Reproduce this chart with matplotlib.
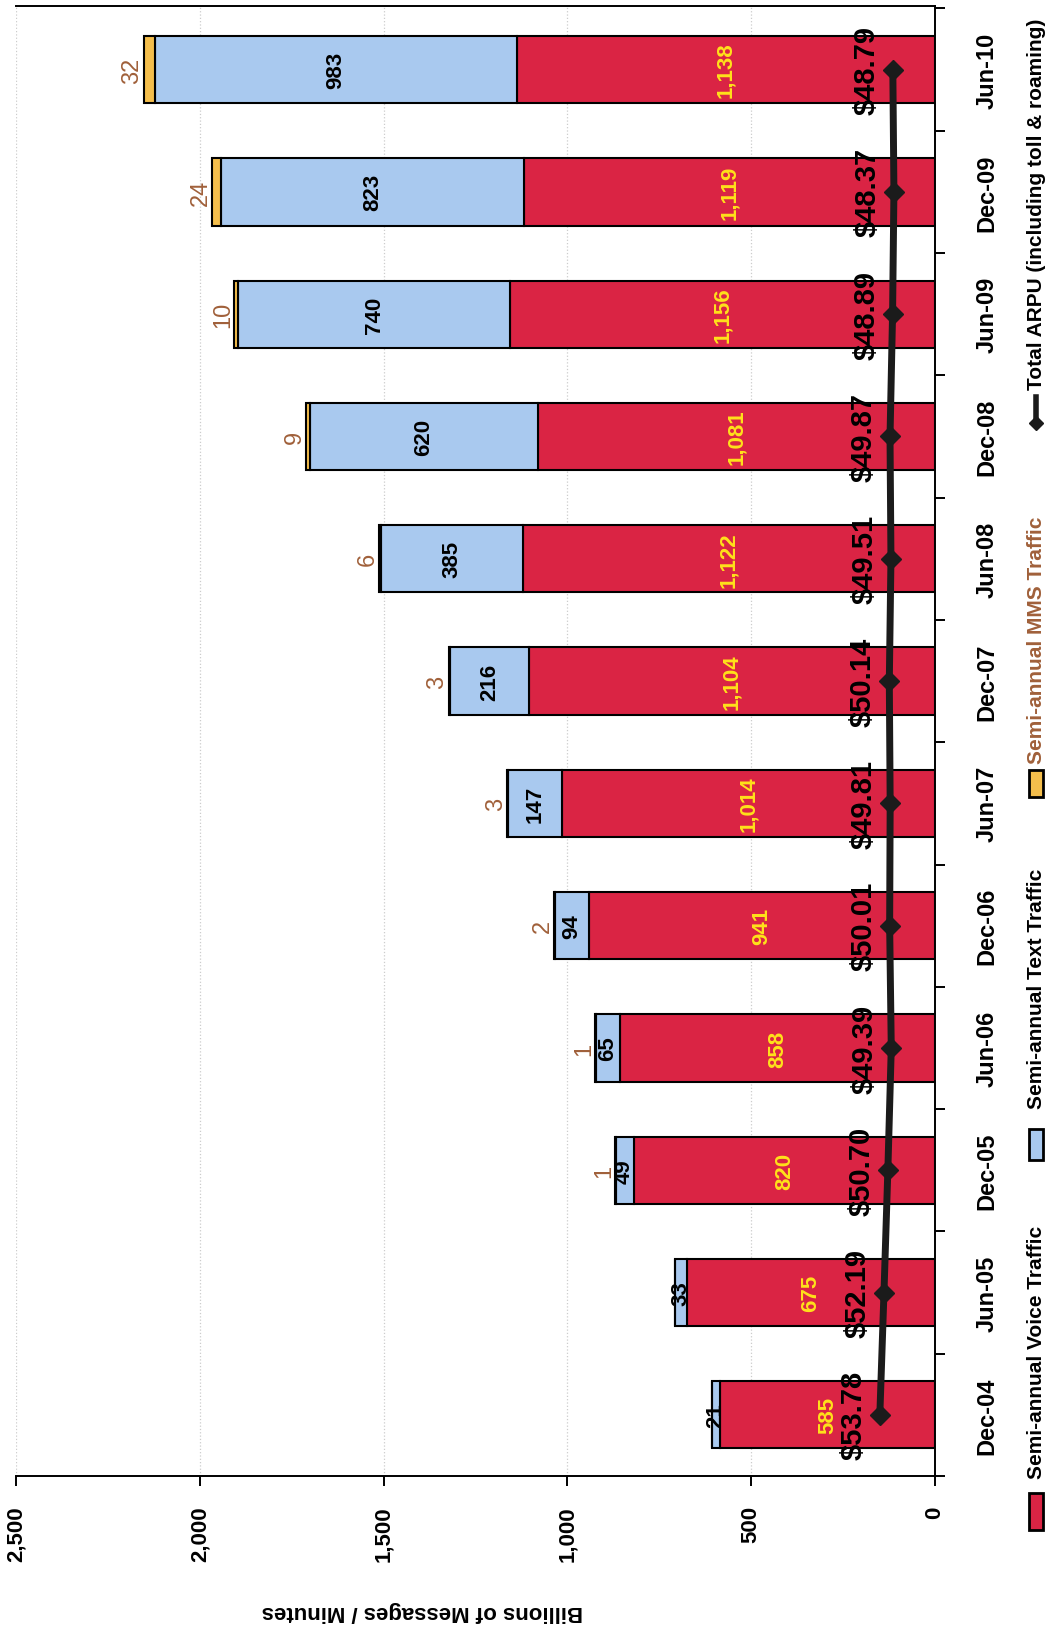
import matplotlib.pyplot as plt
from matplotlib.patches import Rectangle
from matplotlib.lines import Line2D
import numpy as np

# Semi-annual traffic (billions of messages / minutes)
periods = ["Dec-04", "Jun-05", "Dec-05", "Jun-06", "Dec-06", "Jun-07",
           "Dec-07", "Jun-08", "Dec-08", "Jun-09", "Dec-09", "Jun-10"]
voice = [585, 675, 820, 858, 941, 1014, 1104, 1122, 1081, 1156, 1119, 1138]
text_msgs = [21, 33, 49, 65, 94, 147, 216, 385, 620, 740, 823, 983]
mms = [0, 0, 1, 1, 2, 3, 3, 6, 9, 10, 24, 32]
# Total ARPU (including toll & roaming), dollars
arpu = [53.78, 52.19, 50.70, 49.39, 50.01, 49.81, 50.14, 49.51, 49.87, 48.89, 48.37, 48.79]

value_ticks = [0, 500, 1000, 1500, 2000, 2500]

RED = "#DA2444"
BLUE = "#A9C9EF"
ORANGE = "#F4BE4C"
BROWN = "#A0603A"
YELLOW = "#FFE21A"

plt.rcParams['font.family'] = ['Liberation Sans Narrow', 'Liberation Sans', 'DejaVu Sans']

W, H = 1056, 1633
fig = plt.figure(figsize=(W / 100, H / 100), dpi=100)

# the whole chart is turned a quarter turn: categories run bottom -> top,
# values run right -> left
ax = fig.add_axes([16 / W, 1 - 1477 / H, (935 - 16) / W, (1477 - 7) / H])
y = np.arange(len(periods))
voice_a = np.array(voice)
text_a = np.array(text_msgs)
mms_a = np.array(mms)

bw = 0.55
ax.barh(y, voice_a, height=bw, color=RED, edgecolor="black", linewidth=1.5, zorder=2)
ax.barh(y, text_a, left=voice_a, height=bw, color=BLUE, edgecolor="black", linewidth=1.5, zorder=2)
ax.barh(y, mms_a, left=voice_a + text_a, height=bw, color=ORANGE, edgecolor="black", linewidth=1.5, zorder=2)

ax.set_xlim(2500, 0)
ax.set_ylim(-0.47, len(periods) - 0.48)

# value labels
for i in range(len(periods)):
    ax.text(voice_a[i] / 2, i, f"{voice_a[i]:,}", rotation=90, ha="center", va="center",
            color=YELLOW, fontsize=16, fontweight="bold", zorder=4)
    ax.text(voice_a[i] + text_a[i] / 2, i, f"{text_a[i]:,}", rotation=90, ha="center", va="center",
            color="black", fontsize=16, fontweight="bold", zorder=4)
    if mms_a[i] > 0:
        ax.annotate(f"{mms_a[i]}", (voice_a[i] + text_a[i] + mms_a[i], i),
                    xytext=(-8, 0), textcoords="offset points", rotation=90,
                    ha="center", va="center", color=BROWN, fontsize=17, zorder=4)

# axes styling
ax.grid(axis="x", color="#cccccc", linestyle=":", linewidth=0.9, zorder=0)
ax.set_axisbelow(True)
ax.spines["left"].set_visible(False)
for s in ["right", "bottom", "top"]:
    ax.spines[s].set_linewidth(1.4)

ax.set_xticks(value_ticks)
ax.set_xticklabels([f"{v:,}" for v in value_ticks], rotation=90, ha="center", va="top",
                   fontsize=16, fontweight="bold", family=["Liberation Sans"])
ax.tick_params(axis="x", direction="out", length=7, width=1.4, pad=14)

ax.yaxis.set_ticks_position("right")
ax.set_yticks(y)
ax.set_yticklabels(periods, rotation=90, ha="left", va="center", fontsize=17, fontweight="bold")
ax.set_yticks(np.arange(-0.5, len(periods)), minor=True)
ax.tick_params(axis="y", which="major", length=0, pad=29)
ax.tick_params(axis="y", which="minor", direction="out", length=7, width=1.4)

fig.text(422 / W, 1 - 1612 / H, "Billions of Messages / Minutes", rotation=180,
         ha="center", va="center", fontsize=16, fontweight="bold", family=["Liberation Sans"])

# ARPU line on its own hidden scale
ax2 = ax.twiny()
ax2.set_xlim(385.4, 32.6)
ax2.plot(arpu, y, color="#1b1b1b", linewidth=5, marker="D", markersize=10, zorder=5)
for i, v in enumerate(arpu):
    ax2.annotate(f"${v:.2f}", (v, i), xytext=(-19, 0), textcoords="offset points",
                 rotation=90, ha="center", va="center", fontsize=21, fontweight="bold",
                 color="black", zorder=6)
ax2.set_xticks([])
for s in ax2.spines.values():
    s.set_visible(False)

# legend, drawn turned like the rest of the chart
lx = 1036
def fx(px):
    return px / W
def fy(py):
    return 1 - py / H

patches = [(RED, 1494, 1531), (BLUE, 1130, 1161), (ORANGE, 771, 798)]
for col, top, bot in patches:
    fig.add_artist(Rectangle((fx(lx - 7), fy(bot)), 14 / W, (bot - top) / H,
                             transform=fig.transFigure, facecolor=col, edgecolor="black",
                             linewidth=2))
fig.add_artist(Line2D([fx(lx), fx(lx)], [fy(424), fy(398)], transform=fig.transFigure,
                      color="#1b1b1b", linewidth=4, marker="D", markersize=7,
                      markevery=[0]))
legend_items = [("Semi-annual Voice Traffic", 1479, "black"),
                ("Semi-annual Text Traffic", 1109, "black"),
                ("Semi-annual MMS Traffic", 764, BROWN),
                ("Total ARPU (including toll & roaming)", 390, "black")]
for label, start, col in legend_items:
    fig.text(fx(lx), fy(start), label, rotation=90, ha="center", va="bottom",
             fontsize=15, fontweight="bold", color=col)

fig.savefig("out.png", dpi=100)
